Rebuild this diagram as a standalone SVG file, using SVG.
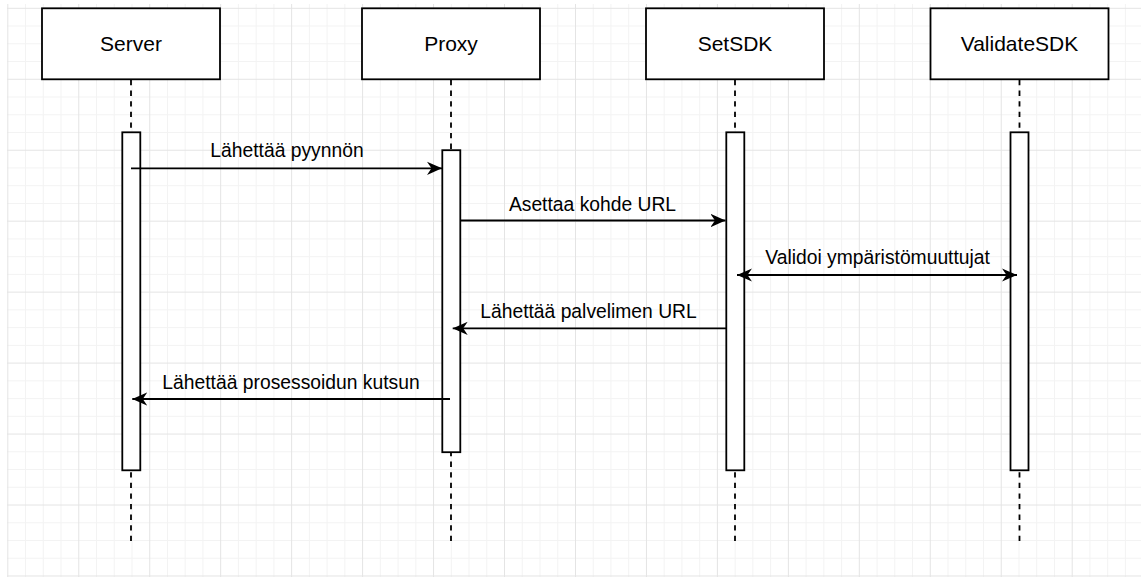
<svg xmlns="http://www.w3.org/2000/svg" width="1141" height="577" viewBox="0 0 1141 577">
<style>
.bg{fill:#ffffff}
.gmin{stroke:#f3f3f3;stroke-width:1;fill:none}
.gmaj{stroke:#e4e4e4;stroke-width:1;fill:none}
.head{fill:#ffffff;stroke:#000000;stroke-width:1.8}
.life{stroke:#000000;stroke-width:1.8;stroke-dasharray:5.3 5.3;fill:none}
.act{fill:#ffffff;stroke:#000000;stroke-width:1.8}
.title{font-family:"Liberation Sans",Arial,sans-serif;font-size:21px;fill:#000000;text-anchor:middle}
.msg{stroke:#000000;stroke-width:1.8;fill:none}
.lbl{font-family:"Liberation Sans",Arial,sans-serif;font-size:19.3px;fill:#000000;text-anchor:middle}
</style>
<defs>
<marker id="ah" viewBox="0 0 15 14" refX="15" refY="7" markerWidth="15" markerHeight="14" markerUnits="userSpaceOnUse" orient="auto-start-reverse">
<path d="M15,7 L0,0.4 L4.5,7 L0,13.6 Z" fill="#000000"/>
</marker>
</defs>
<rect class="bg" x="0" y="0" width="1141" height="577"/>
<g id="grid">
<path class="gmin" d="M25.54 4V577M43.28 4V577M61.02 4V577M96.5 4V577M114.24 4V577M131.98 4V577M167.46 4V577M185.2 4V577M202.94 4V577M238.42 4V577M256.16 4V577M273.9 4V577M309.38 4V577M327.12 4V577M344.86 4V577M380.34 4V577M398.08 4V577M415.82 4V577M451.3 4V577M469.04 4V577M486.78 4V577M522.26 4V577M540 4V577M557.74 4V577M593.22 4V577M610.96 4V577M628.7 4V577M664.18 4V577M681.92 4V577M699.66 4V577M735.14 4V577M752.88 4V577M770.62 4V577M806.1 4V577M823.84 4V577M841.58 4V577M877.06 4V577M894.8 4V577M912.54 4V577M948.02 4V577M965.76 4V577M983.5 4V577M1018.98 4V577M1036.72 4V577M1054.46 4V577M1089.94 4V577M1107.68 4V577M1125.42 4V577M7 26.04H1141M7 43.78H1141M7 61.52H1141M7 97H1141M7 114.74H1141M7 132.48H1141M7 167.96H1141M7 185.7H1141M7 203.44H1141M7 238.92H1141M7 256.66H1141M7 274.4H1141M7 309.88H1141M7 327.62H1141M7 345.36H1141M7 380.84H1141M7 398.58H1141M7 416.32H1141M7 451.8H1141M7 469.54H1141M7 487.28H1141M7 522.76H1141M7 540.5H1141M7 558.24H1141"/>
<path class="gmaj" d="M7.8 4V577M78.76 4V577M149.72 4V577M220.68 4V577M291.64 4V577M362.6 4V577M433.56 4V577M504.52 4V577M575.48 4V577M646.44 4V577M717.4 4V577M788.36 4V577M859.32 4V577M930.28 4V577M1001.24 4V577M1072.2 4V577M7 8.3H1141M7 79.26H1141M7 150.22H1141M7 221.18H1141M7 292.14H1141M7 363.1H1141M7 434.06H1141M7 505.02H1141M7 575.98H1141"/>
</g>
<g id="server">
<line class="life" x1="131" y1="80" x2="131" y2="542"/>
<rect class="head" x="42" y="8.3" width="178" height="71"/>
<text class="title" x="131" y="51">Server</text>
<rect class="act" x="122.3" y="132.3" width="18" height="338"/>
</g>
<g id="proxy">
<line class="life" x1="451" y1="80" x2="451" y2="542"/>
<rect class="head" x="362" y="8.3" width="178" height="71"/>
<text class="title" x="451" y="51">Proxy</text>
<rect class="act" x="442.3" y="150.2" width="18" height="302"/>
</g>
<g id="setsdk">
<line class="life" x1="735" y1="80" x2="735" y2="542"/>
<rect class="head" x="646" y="8.3" width="178" height="71"/>
<text class="title" x="735" y="51">SetSDK</text>
<rect class="act" x="726.3" y="132.3" width="18" height="338"/>
</g>
<g id="validatesdk">
<line class="life" x1="1019.5" y1="80" x2="1019.5" y2="542"/>
<rect class="head" x="930.5" y="8.3" width="178" height="71"/>
<text class="title" x="1019.5" y="51">ValidateSDK</text>
<rect class="act" x="1010.5" y="132.3" width="18" height="338"/>
</g>
<g id="connectors">
<line class="msg" x1="131" y1="168.3" x2="442" y2="168.3" marker-end="url(#ah)"/>
<text class="lbl" x="287" y="157.3">Lähettää pyynnön</text>
<line class="msg" x1="460.3" y1="220.5" x2="725.5" y2="220.5" marker-end="url(#ah)"/>
<text class="lbl" x="592.5" y="211">Asettaa kohde URL</text>
<line class="msg" x1="737" y1="275" x2="1017" y2="275" marker-start="url(#ah)" marker-end="url(#ah)"/>
<text class="lbl" x="877.6" y="264.3">Validoi ympäristömuuttujat</text>
<line class="msg" x1="726.5" y1="328.3" x2="452.7" y2="328.3" marker-end="url(#ah)"/>
<text class="lbl" x="588.5" y="317.7">Lähettää palvelimen URL</text>
<line class="msg" x1="450" y1="399" x2="132.3" y2="399" marker-end="url(#ah)"/>
<text class="lbl" x="291" y="389.3">Lähettää prosessoidun kutsun</text>
</g>
</svg>
